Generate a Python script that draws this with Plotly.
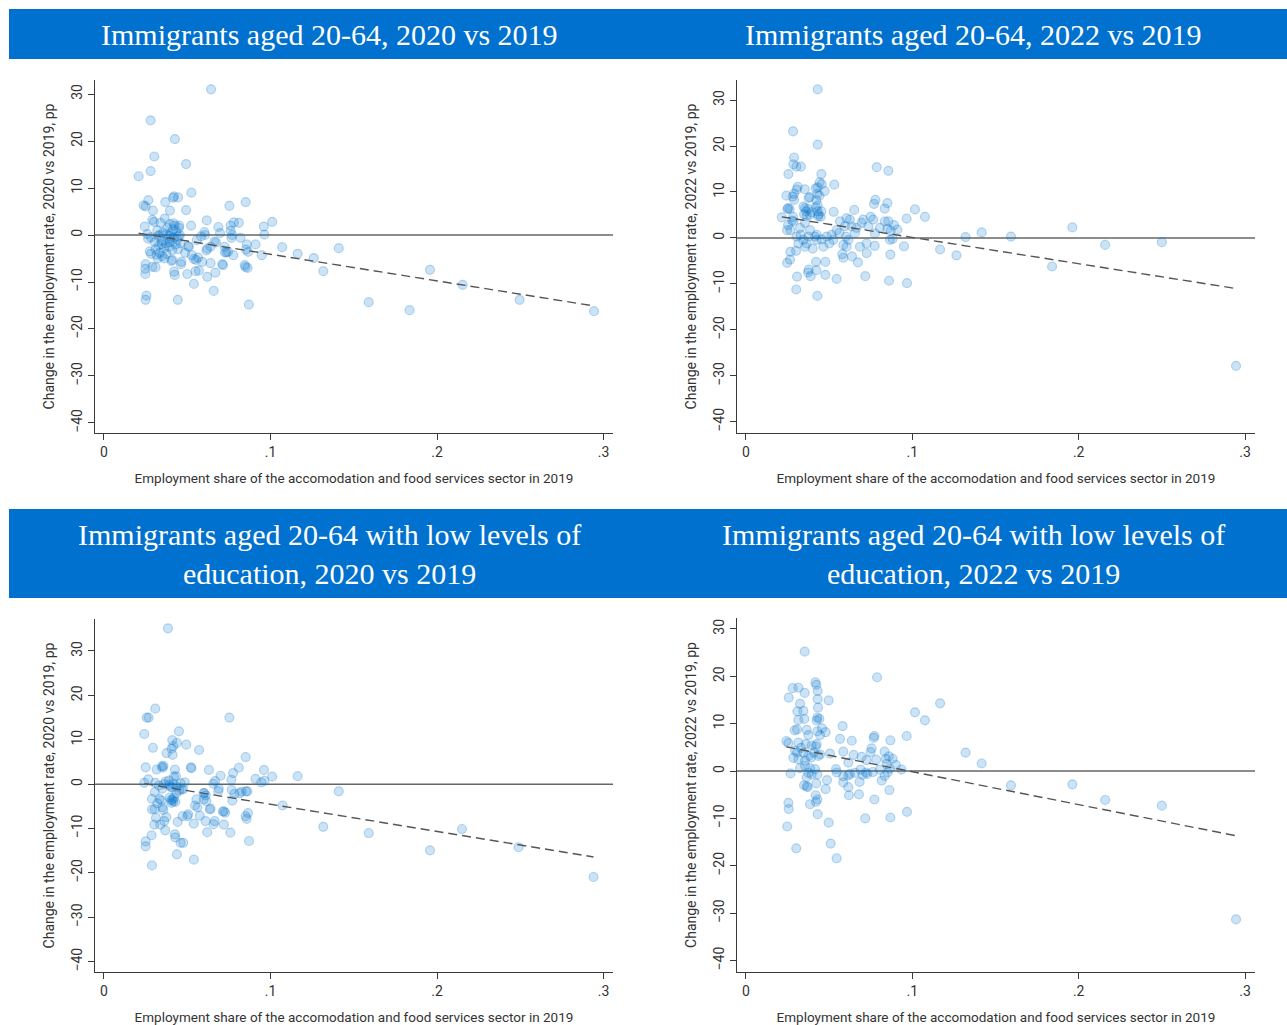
import plotly.graph_objects as go
import numpy as np

# ---------------- data ----------------
p1_x = [0.0643, 0.028, 0.0426, 0.0302, 0.0493, 0.028, 0.0208, 0.0525, 0.0266, 0.0238, 0.025, 0.0368, 0.042, 0.0445,
        0.0415, 0.0396, 0.0493, 0.0294, 0.0753, 0.0851, 0.0617, 0.0523, 0.101, 0.096, 0.0963, 0.081, 0.078, 0.076, 0.0687,
        0.107, 0.1163, 0.126, 0.1317, 0.141, 0.159, 0.1835, 0.1958, 0.2154, 0.2496, 0.2943,
        0.087, 0.0659, 0.0443, 0.025, 0.0255, 0.0248, 0.0248, 0.025, 0.029, 0.031, 0.054, 0.062, 0.0669, 0.05, 0.0425,
        0.0421, 0.055, 0.057, 0.0715, 0.071, 0.085, 0.0862, 0.0845,
        0.0947, 0.0853, 0.0866, 0.0858, 0.091, 0.082, 0.077, 0.0765, 0.0761, 0.0777, 0.0745, 0.0735, 0.0725, 0.0727, 0.0697,
        0.0673, 0.0663, 0.064, 0.0615, 0.062, 0.064, 0.059, 0.0565, 0.054, 0.0553, 0.0603, 0.0607, 0.0583, 0.0557, 0.051,
        0.0505, 0.0527, 0.0465, 0.0462, 0.0487, 0.0456, 0.0452,
        0.0245, 0.026, 0.0265, 0.0275, 0.029, 0.030, 0.0305, 0.031, 0.0315, 0.032, 0.0325, 0.033, 0.0335, 0.034, 0.0345,
        0.035, 0.0355, 0.036, 0.0365, 0.037, 0.0375, 0.038, 0.0385, 0.039, 0.0395, 0.040, 0.0405, 0.041, 0.0415, 0.042,
        0.0425, 0.043, 0.0435, 0.044, 0.0445, 0.045, 0.046, 0.0335, 0.0348, 0.0375, 0.0395, 0.041, 0.0405, 0.0362, 0.0322,
        0.0282, 0.0282, 0.0392, 0.0418, 0.0448]
p1_y = [31.0, 24.4, 20.4, 16.7, 15.1, 13.6, 12.5, 9.0, 7.4, 6.3, 6.1, 7.0, 8.2, 8.0,
        7.9, 5.2, 5.3, 5.2, 6.2, 7.0, 3.1, 2.0, 2.8, 1.8, 0.1, 2.6, 2.7, 2.0, 1.7,
        -2.6, -4.0, -4.9, -7.7, -2.8, -14.3, -16.0, -7.4, -10.6, -13.8, -16.2,
        -14.8, -11.9, -13.8, -13.8, -12.9, -8.3, -7.2, -6.2, -6.8, -6.9, -10.4, -8.9, -8.0, -8.3, -8.5,
        -7.8, -7.7, -7.6, -6.4, -6.2, -6.8, -7.0, -6.4,
        -4.3, -3.1, -3.6, -2.0, -2.0, -0.6, 0.0, -0.6, 0.9, -4.3, -3.6, -3.7, -2.5, -3.7, 0.4,
        -1.6, -1.4, -2.5, -3.3, -2.9, -6.0, -5.7, -4.8, -5.1, -5.3, 0.6, 0.0, -0.3, -1.1, -2.5,
        -2.4, -4.3, -5.7, -6.2, -3.8, 0.0, 2.0,
        1.8, 0.2, -0.8, -3.5, 3.2, 2.8, -1.5, -3.0, -4.2, 1.0, -0.2, -2.2, -3.8, 2.6, -1.2,
        -4.5, 0.5, -2.8, 3.5, -1.8, -4.0, 1.5, -0.8, -2.5, 2.3, 0.3, -1.3, -3.2, 1.2, -0.5,
        2.0, -2.0, 0.8, -1.0, -3.0, 1.5, -1.8, 0.0, -2.0, 0.2, -1.5, -5.3, -5.5, -5.0, -5.0,
        -4.0, -0.5, -0.2, 2.5, -0.3]

p2_x = [0.0431, 0.0283, 0.0431, 0.0289, 0.0285, 0.0303, 0.0330, 0.0255, 0.0453, 0.0443, 0.0455, 0.0419, 0.0431, 0.0473,
        0.0531, 0.0311, 0.0305, 0.0353, 0.0289, 0.0281, 0.0243, 0.0377, 0.0383, 0.0429, 0.0441, 0.0423, 0.0431, 0.0419,
        0.0431, 0.0437, 0.0453, 0.0449, 0.0435, 0.0289, 0.0253, 0.0263, 0.0249, 0.0345, 0.0355, 0.0361, 0.0375, 0.0395,
        0.0349, 0.0365, 0.0283, 0.0277, 0.0253, 0.0267, 0.0247, 0.0215, 0.0527, 0.0651, 0.0786, 0.0856, 0.0778, 0.0770,
        0.0850, 0.0834, 0.1016, 0.1076, 0.0966, 0.132, 0.1417, 0.1167, 0.1265, 0.1593, 0.184, 0.1962, 0.2159, 0.25, 0.2946,
        0.095, 0.0868, 0.086, 0.0968, 0.0717, 0.0545, 0.0429, 0.0302, 0.0307, 0.0373, 0.0389, 0.0377, 0.0423, 0.0477,
        0.0421, 0.0477, 0.0247, 0.0265, 0.0267, 0.0301, 0.0673, 0.0579, 0.0585, 0.0637, 0.0726, 0.0774, 0.0856, 0.0890,
        0.0850, 0.0870, 0.0910, 0.0866, 0.0882,
        0.0304, 0.0315, 0.0345, 0.0355, 0.0375, 0.0385, 0.0415, 0.0425, 0.0455, 0.0485, 0.0501, 0.0515, 0.0545, 0.0565,
        0.0585, 0.0601, 0.0615, 0.0625, 0.0635, 0.0665, 0.0695, 0.0705, 0.0735, 0.0725, 0.0749, 0.0765, 0.0775, 0.0805,
        0.0835, 0.0595, 0.0355, 0.0325, 0.0285, 0.0385, 0.0605, 0.0655, 0.0561, 0.0685, 0.0525, 0.0605, 0.0465, 0.0365,
        0.0401, 0.0425, 0.0329]
p2_y = [32.3, 23.2, 20.3, 17.5, 16.0, 15.5, 15.5, 13.9, 13.9, 12.1, 11.7, 10.8, 11.0, 10.2,
        11.6, 11.1, 10.5, 10.6, 9.6, 9.0, 9.2, 8.7, 8.9, 9.6, 9.2, 8.2, 7.1, 6.7,
        5.8, 5.1, 5.8, 4.6, 4.7, 8.3, 6.5, 6.3, 6.3, 6.8, 6.5, 5.8, 6.3, 5.6,
        5.2, 4.8, 4.6, 3.8, 2.8, 1.7, 1.7, 4.5, 5.7, 6.1, 15.4, 14.6, 8.3, 7.4,
        7.6, 6.4, 6.2, 4.6, 4.2, 0.2, 1.2, -2.5, -3.8, 0.3, -6.2, 2.3, -1.5, -0.9, -27.8,
        -1.8, -3.6, -9.3, -9.8, -8.3, -8.9, -12.6, -11.2, -8.4, -7.5, -8.3, -6.9, -7.0, -8.0,
        -5.2, -5.2, -5.4, -4.7, -3.0, -2.8, -5.3, -3.5, -4.3, -4.0, -3.3, -1.7, 3.6, 2.8,
        2.0, 1.6, 1.8, -0.4, -0.2,
        0.3, -1.2, -0.4, -1.9, 0.3, 1.7, 0.3, -0.4, -0.3, 0.3, -1.2, 0.7, 1.7, 3.6,
        -1.5, 0.3, -0.4, 4.0, 2.5, 2.2, 3.3, 4.0, 2.5, -1.2, 4.6, 4.0, 1.0, 2.2,
        3.6, 2.6, 3.3, 2.2, 3.6, 5.1, 4.3, 1.1, 1.1, -1.9, -0.4, -1.9, -1.9, -1.2,
        -2.3, 0.7, 0.7]

p3_x = [0.0384, 0.0308, 0.0256, 0.0268, 0.0753, 0.0242, 0.045, 0.0294, 0.041, 0.0438, 0.0416, 0.0406, 0.0412, 0.0376,
        0.0494, 0.0571, 0.0851, 0.025, 0.0347, 0.0357, 0.0353, 0.0316, 0.0426, 0.0432, 0.0420, 0.0522, 0.0525, 0.063,
        0.081, 0.0961, 0.0775, 0.070, 0.101, 0.1163, 0.091, 0.0945, 0.0963, 0.0765, 0.0667, 0.0657, 0.141, 0.1073,
        0.1317, 0.159, 0.1958, 0.215, 0.249, 0.294,
        0.0242, 0.0266, 0.0308, 0.0362, 0.0392, 0.0402, 0.0418, 0.0485,
        0.0603, 0.0611, 0.0599, 0.0615, 0.0555, 0.0547, 0.0561, 0.0452, 0.0436, 0.041, 0.0416, 0.0428, 0.0402,
        0.0288, 0.0304, 0.0288, 0.0334, 0.0344, 0.0356, 0.0352, 0.0312, 0.0302, 0.0338, 0.0362, 0.0374, 0.0368, 0.0286,
        0.025, 0.025, 0.0288, 0.0438, 0.054, 0.0426, 0.0428, 0.0460, 0.0476, 0.0443, 0.0472, 0.0500, 0.0506, 0.0539,
        0.0575, 0.061, 0.062, 0.0665, 0.0659, 0.0635, 0.064, 0.072, 0.0728, 0.0714, 0.072, 0.0759, 0.0771, 0.0783,
        0.0767, 0.0815, 0.0827, 0.0853, 0.0861, 0.0851, 0.0857, 0.0865, 0.0871, 0.069, 0.0686, 0.0597,
        0.033, 0.035, 0.037, 0.039, 0.041, 0.0435, 0.0395, 0.0405, 0.042, 0.0465, 0.0475, 0.0305, 0.032, 0.046]
p3_y = [35.1, 17.0, 15.0, 15.0, 15.0, 11.3, 11.9, 8.2, 9.9, 9.3, 8.6, 8.0, 6.6, 7.0,
        8.9, 7.7, 6.1, 3.8, 4.0, 4.1, 3.7, 3.3, 3.3, 1.8, 1.7, 3.8, 3.6, 3.2,
        3.7, 3.2, 2.5, 1.9, 1.7, 1.8, 1.2, 0.4, 0.8, 1.0, 0.7, 0.1, -1.6, -4.8,
        -9.6, -11.0, -14.9, -10.1, -14.2, -20.9,
        0.3, 1.1, 0.3, 0.0, -0.2, -0.6, 0.1, 0.4,
        -2.0, -2.5, -3.4, -3.8, -3.4, -4.8, -5.2, -1.4, -2.0, -3.5, -3.9, -4.0, -3.6,
        -3.3, -5.6, -5.7, -3.3, -3.7, -5.8, -5.2, -7.6, -9.1, -9.1, -8.3, -7.4, -10.4, -11.5,
        -12.9, -14.0, -18.3, -15.8, -17.0, -11.3, -12.0, -13.2, -13.2, -8.5, -7.2, -7.2, -6.8, -8.9,
        -7.1, -8.3, -10.8, -8.3, -9.0, -5.7, -5.5, -6.1, -6.4, -6.2, -9.1, -10.9, -3.7, -2.2,
        -1.3, -2.0, -1.7, -1.6, -1.6, -7.2, -7.8, -6.5, -12.8, -1.0, -1.6, -2.0,
        -0.3, -1.0, 0.6, 0.8, -0.8, -0.5, -3.0, -4.2, -3.1, -1.2, -1.1, -1.8, -4.3, 0.2]

p4_x = [0.0353, 0.0788, 0.0417, 0.0423, 0.0281, 0.0315, 0.0353, 0.0431, 0.0431, 0.0433, 0.0257, 0.0497, 0.0325, 0.0309,
        0.0345, 0.0351, 0.0315, 0.0429, 0.0441, 0.0425, 0.0581, 0.0293, 0.0307, 0.0365, 0.0375, 0.0429, 0.0457, 0.0479,
        0.0445, 0.0243, 0.0255, 0.0565, 0.0636, 0.0772, 0.0768, 0.0868, 0.0966, 0.1016, 0.1076, 0.1167, 0.132, 0.1417,
        0.1593, 0.1962, 0.2159, 0.25, 0.2946,
        0.0315, 0.0331, 0.0295, 0.0359, 0.0395, 0.0419, 0.0425, 0.0409, 0.0445, 0.0435, 0.0391, 0.0345, 0.0307, 0.0285,
        0.0315, 0.0355, 0.0375, 0.0505, 0.0585, 0.0647, 0.0695, 0.0725, 0.0749, 0.0755, 0.0833, 0.0859, 0.0841, 0.0783,
        0.0901, 0.0865, 0.0935,
        0.0325, 0.0355, 0.0385, 0.0375, 0.0395, 0.0415, 0.0429, 0.0365, 0.0268, 0.0487, 0.0479, 0.0541, 0.0545, 0.0585,
        0.0615, 0.0625, 0.0655, 0.0689, 0.0721, 0.0729, 0.0763, 0.0615, 0.0585, 0.0615, 0.0619, 0.0679, 0.0683, 0.0701,
        0.0816, 0.0852, 0.0862, 0.0772, 0.0717, 0.0868, 0.0968, 0.0349, 0.0371, 0.0365, 0.0423, 0.0419, 0.0429, 0.0421,
        0.0385, 0.0431, 0.0497, 0.0255, 0.0257, 0.0248, 0.0302, 0.0509, 0.0545, 0.0805, 0.0845, 0.0834, 0.0882]
p4_y = [25.2, 19.8, 18.7, 18.2, 17.5, 17.6, 16.5, 16.9, 15.2, 13.4, 15.5, 14.9, 14.2, 12.6,
        12.7, 11.0, 10.8, 11.3, 11.0, 10.7, 9.5, 8.6, 8.8, 8.7, 7.6, 8.4, 9.0, 8.2,
        7.6, 6.3, 5.9, 6.8, 6.4, 7.4, 7.0, 6.5, 7.4, 12.4, 10.7, 14.3, 3.9, 1.6,
        -3.0, -2.8, -6.1, -7.3, -31.3,
        6.0, 4.9, 4.3, 5.7, 5.4, 5.2, 5.7, 3.9, 3.5, 3.2, 2.9, 3.9, 3.9, 2.8,
        2.5, 2.2, 3.2, 3.7, 4.1, 3.4, 3.0, 2.3, 4.0, 4.8, 4.1, 3.1, 2.6, 2.4,
        1.3, 0.5, 0.3,
        0.6, 1.1, 0.6, -0.4, -0.7, 0.4, -0.7, -1.3, -0.5, -1.9, -3.8, 0.4, -0.3, -1.1,
        -0.9, -0.6, -0.4, 0.3, -0.3, -0.6, -0.2, 1.8, -2.4, -3.4, -5.1, -4.9, -2.3, -0.8,
        -2.0, -0.3, -4.0, -6.0, -10.0, -9.8, -8.6, -3.0, -3.4, -3.2, -2.6, -5.1, -6.0, -6.5,
        -7.0, -9.1, -10.9, -6.7, -8.0, -11.7, -16.3, -15.3, -18.4, 0.3, 1.5, -1.0, 2.6]

# fitted linear trends (intercept, slope)
fit_p1 = (1.56, -56.6)
fit_p2 = (5.83, -57.1)
fit_p3 = (1.60, -61.2)
fit_p4 = (6.80, -69.4)

titles = ["Immigrants aged 20-64, 2020 vs 2019",
          "Immigrants aged 20-64, 2022 vs 2019",
          "Immigrants aged 20-64 with low levels of<br>education, 2020 vs 2019",
          "Immigrants aged 20-64 with low levels of<br>education, 2022 vs 2019"]
y_titles = ["Change in the employment rate, 2020 vs 2019, pp",
            "Change in the employment rate, 2022 vs 2019, pp",
            "Change in the employment rate, 2020 vs 2019, pp",
            "Change in the employment rate, 2022 vs 2019, pp"]
x_title = "Employment share of the accomodation and food services sector in 2019"
x_tickvals = [0, 0.1, 0.2, 0.3]
x_ticktext = ["0", ".1", ".2", ".3"]
y_tickvals = [-40, -30, -20, -10, 0, 10, 20, 30]

# ---------------- layout geometry (pixels) ----------------
W, H = 1287, 1025
def fx(px): return px / W
def fy(py): return 1 - py / H

panels = [
    dict(x=p1_x, y=p1_y, fit=fit_p1, dom=(95, 613, 80, 433), xr=(-0.0054, 0.3057), yr=(-42.13, 32.98)),
    dict(x=p2_x, y=p2_y, fit=fit_p2, dom=(737, 1255, 80, 433), xr=(-0.0054, 0.306), yr=(-42.4, 34.35)),
    dict(x=p3_x, y=p3_y, fit=fit_p3, dom=(95, 613, 619, 972), xr=(-0.0054, 0.3057), yr=(-42.3, 37.2)),
    dict(x=p4_x, y=p4_y, fit=fit_p4, dom=(737, 1255, 618, 972), xr=(-0.0054, 0.306), yr=(-42.4, 32.3)),
]

BLUE = "#0071CE"
MARK_FILL = "rgba(0,114,206,0.2)"
MARK_LINE = "rgba(0,114,206,0.26)"
AX = "#3a3a3a"
FONT = "Roboto"

fig = go.Figure()
layout = dict(width=W, height=H, margin=dict(l=0, r=0, t=0, b=0),
              paper_bgcolor="white", plot_bgcolor="white", showlegend=False)
shapes = []
annotations = []

for i, p in enumerate(panels):
    n = "" if i == 0 else str(i + 1)
    xa, ya = "x" + n, "y" + n
    fig.add_trace(go.Scatter(x=p["x"], y=p["y"], mode="markers", xaxis=xa, yaxis=ya,
                             marker=dict(size=9, color=MARK_FILL, line=dict(color=MARK_LINE, width=1.2)),
                             hoverinfo="skip"))
    b0, b1 = p["fit"]
    xs = np.array([min(p["x"]), max(p["x"])])
    fig.add_trace(go.Scatter(x=xs, y=b0 + b1 * xs, mode="lines", xaxis=xa, yaxis=ya,
                             line=dict(color="#555555", width=1.4, dash="9px,5px"), hoverinfo="skip"))
    l, r, t, b = p["dom"]
    layout["xaxis" + n] = dict(domain=[fx(l), fx(r)], range=list(p["xr"]), anchor=ya,
                               tickvals=x_tickvals, ticktext=x_ticktext, ticks="outside", ticklen=6,
                               tickcolor=AX, showline=True, linecolor=AX, linewidth=1, showgrid=False,
                               zeroline=False, tickfont=dict(family=FONT, size=14, color="#333"),
                               title=dict(text=x_title, standoff=14, font=dict(family=FONT, size=13.5, color="#333")))
    layout["yaxis" + n] = dict(domain=[fy(b), fy(t)], range=list(p["yr"]), anchor=xa,
                               tickvals=y_tickvals, tickangle=-90, ticks="outside", ticklen=6,
                               tickcolor=AX, showline=True, linecolor=AX, linewidth=1, showgrid=False,
                               zeroline=False, tickfont=dict(family=FONT, size=14, color="#333"),
                               title=dict(text=y_titles[i], standoff=11, font=dict(family=FONT, size=14, color="#333")))
    shapes.append(dict(type="line", xref=xa + " domain", yref=ya, x0=0, x1=1, y0=0, y1=0,
                       line=dict(color="#666666", width=1.4), layer="below"))

# title bars
shapes.append(dict(type="rect", xref="paper", yref="paper", x0=fx(9), x1=fx(1287), y0=fy(59), y1=fy(9),
                   fillcolor=BLUE, line=dict(width=0), layer="below"))
shapes.append(dict(type="rect", xref="paper", yref="paper", x0=fx(9), x1=fx(1287), y0=fy(598), y1=fy(509),
                   fillcolor=BLUE, line=dict(width=0), layer="below"))
title_pos = [(330, 34), (973, 34), (330, 554), (973, 554)]
for (cx, cy), t in zip(title_pos, titles):
    annotations.append(dict(text=t, xref="paper", yref="paper", x=fx(cx), y=fy(cy), xanchor="center",
                            yanchor="middle", showarrow=False, align="center",
                            font=dict(family="Liberation Serif", size=30, color="white")))

layout["shapes"] = shapes
layout["annotations"] = annotations
fig.update_layout(**layout)
fig.write_html("out.html")
